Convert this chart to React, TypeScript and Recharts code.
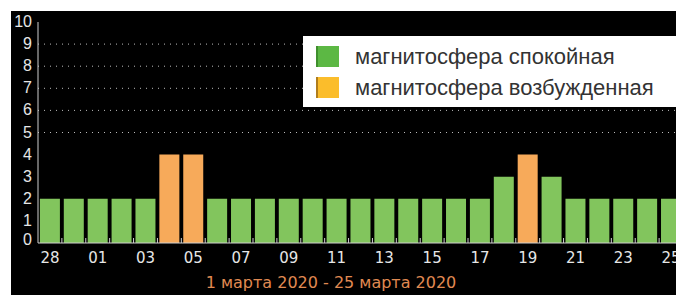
import React from 'react';
import { BarChart, Bar, XAxis, YAxis, Cell, ReferenceLine } from 'recharts';

// дни: 28, 29 февраля и 1..25 марта
const days = ['28', '29', '01', '02', '03', '04', '05', '06', '07', '08', '09', '10', '11', '12', '13', '14', '15', '16', '17', '18', '19', '20', '21', '22', '23', '24', '25'];
// индекс геомагнитной активности
const kp = [2, 2, 2, 2, 2, 4, 4, 2, 2, 2, 2, 2, 2, 2, 2, 2, 2, 2, 2, 3, 4, 3, 2, 2, 2, 2, 2];
const yTicks = [0, 1, 2, 3, 4, 5, 6, 7, 8, 9, 10];
const dottedLevels = [5, 6, 7, 8, 9];
const legendLabels = ['магнитосфера спокойная', 'магнитосфера возбужденная'];
const title = '1 марта 2020 - 25 марта 2020';

const CHART_W = 696;
const CHART_H = 295;
const MARGIN = { top: 22, right: 13, left: 0, bottom: 22 };
const Y_W = 38;
const BAND = (CHART_W - MARGIN.left - MARGIN.right - Y_W) / days.length;

const GREEN = '#82c55d';
const ORANGE = '#f7aa5a';
const AXIS = '#cfcfcf';

const chartData = days.map((d, i) => ({ day: d, kp: kp[i] }));

const BottomTick = (props: any) => {
  const { x, y, payload, index } = props;
  return (
    <g>
      <line x1={x + BAND / 2} y1={y} x2={x + BAND / 2} y2={y - 5} stroke={AXIS} />
      {index % 2 === 0 && (
        <text x={x} y={y + 20} textAnchor="middle" fill="#e6e6e6" fontSize={15} fontFamily="DejaVu Sans">
          {payload.value}
        </text>
      )}
    </g>
  );
};

const TopTick = (props: any) => {
  const { x, y } = props;
  return <line x1={x + BAND / 2} y1={y} x2={x + BAND / 2} y2={y + 5} stroke={AXIS} />;
};

const LeftTick = (props: any) => {
  const { x, y, payload } = props;
  return (
    <text x={x} y={y} dy={payload.value === 0 ? 2 : 5} textAnchor="end" fill="#e6e6e6" fontSize={16} fontFamily="Liberation Sans">
      {payload.value}
    </text>
  );
};

const Swatch = ({ color, edge }: { color: string; edge: string }) => (
  <div style={{ width: 23, height: 21, background: color, borderLeft: `2px solid ${edge}`, boxSizing: 'border-box' }} />
);

export default function App() {
  return (
    <div style={{ position: 'absolute', left: 0, top: 0, width: 676, height: 295, overflow: 'hidden', background: '#fff' }}>
      <div style={{ position: 'absolute', left: 11, top: 11, right: 0, bottom: 0, background: '#000' }} />
      <div style={{ position: 'absolute', left: 0, top: 0 }}>
        <BarChart width={CHART_W} height={CHART_H} data={chartData} margin={MARGIN} barCategoryGap="8%">
          <XAxis
            dataKey="day"
            interval={0}
            tickSize={0}
            tickMargin={0}
            height={30}
            tick={<BottomTick />}
            axisLine={{ stroke: AXIS }}
          />
          <XAxis
            xAxisId="top"
            dataKey="day"
            orientation="top"
            interval={0}
            height={0}
            tickSize={0}
            tickMargin={0}
            tick={<TopTick />}
            axisLine={{ stroke: AXIS }}
          />
          <YAxis
            width={Y_W}
            domain={[0, 10]}
            ticks={yTicks}
            interval={0}
            tickSize={0}
            tickMargin={6}
            tick={<LeftTick />}
            axisLine={{ stroke: AXIS }}
          />
          {dottedLevels.map(v => (
            <ReferenceLine key={v} y={v} stroke="#bbbbbb" strokeDasharray="1 5" />
          ))}
          <Bar dataKey="kp" isAnimationActive={false}>
            {chartData.map((d, i) => (
              <Cell key={i} fill={d.kp >= 4 ? ORANGE : GREEN} />
            ))}
          </Bar>
        </BarChart>
      </div>
      <div
        style={{
          position: 'absolute', left: 303, top: 36, width: 380, height: 71, background: '#fff',
          fontFamily: 'Liberation Sans, Arial, sans-serif', fontSize: 22, color: '#333',
        }}
      >
        {legendLabels.map((t, i) => (
          <div key={t} style={{ position: 'absolute', left: 13, top: 10 + i * 31, display: 'flex', alignItems: 'center' }}>
            <Swatch color={i === 0 ? '#5cb844' : '#fbbd2b'} edge={i === 0 ? '#3f8f2d' : '#b07d1c'} />
            <span style={{ marginLeft: 16, lineHeight: '21px' }}>{t}</span>
          </div>
        ))}
      </div>
      <div
        style={{
          position: 'absolute', left: 0, width: 662, top: 273, textAlign: 'center',
          fontFamily: 'DejaVu Sans', fontSize: 16, color: '#e08a52',
        }}
      >
        {title}
      </div>
    </div>
  );
}
